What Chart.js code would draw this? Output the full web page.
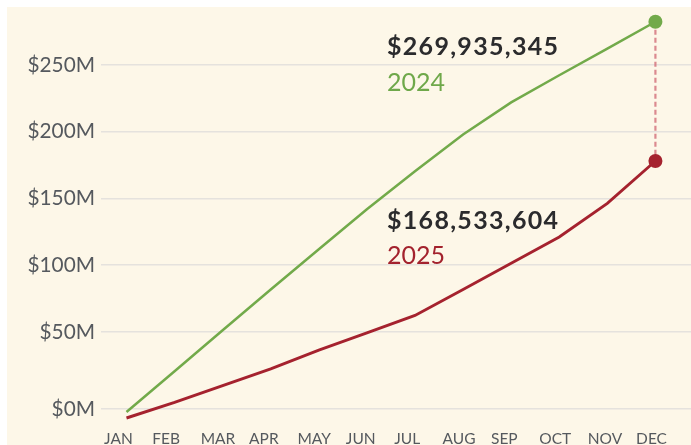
<!DOCTYPE html>
<html>
<head>
<meta charset="utf-8">
<script src="https://cdn.jsdelivr.net/npm/chart.js@4/dist/chart.umd.min.js"></script>
<style>
  html, body { margin: 0; padding: 0; background: #ffffff; width: 691px; height: 445px; overflow: hidden; }
  #wrap { position: absolute; left: 7px; top: 7px; width: 684px; height: 438px; background: #fdf7e8; }
  .ann { position: absolute; font-family: Lato, "Open Sans", sans-serif; font-size: 25px; line-height: 25px; white-space: nowrap; }
  .amt { font-weight: 700; color: #2b2b2d; letter-spacing: 1.3px; }
  .yr { font-weight: 400; }
</style>
</head>
<body>
<div id="wrap"><canvas id="c"></canvas></div>
<div class="ann amt" style="left:387px; top:33px;" id="amt24"></div>
<div class="ann yr" style="left:387px; top:69px; color:#6fa84a;" id="yr24"></div>
<div class="ann amt" style="left:387px; top:207px;" id="amt25"></div>
<div class="ann yr" style="left:387px; top:242px; color:#a3222d;" id="yr25"></div>
<script>
// Categories
const months = ['JAN','FEB','MAR','APR','MAY','JUN','JUL','AUG','SEP','OCT','NOV','DEC'];
// Cumulative totals in $M
const series2024 = [-9.9, 20.6, 51.3, 81.9, 112.0, 142.0, 170.4, 198.0, 222.0, 242.3, 262.3, 282.4];
const series2025 = [-14.4, -2.7, 9.9, 22.4, 36.5, 49.4, 62.4, 81.8, 101.5, 121.2, 146.4, 178.1];
// Series names and end labels
const seriesNames = ['2024', '2025'];
const endLabels = ['$269,935,345', '$168,533,604'];
// Y tick positions ($M) and labels
const yTickValues = [-7.7, 50, 100, 150, 200, 250];
const yTickLabels = ['$0M', '$50M', '$100M', '$150M', '$200M', '$250M'];

document.getElementById('amt24').textContent = endLabels[0];
document.getElementById('yr24').textContent = seriesNames[0];
document.getElementById('amt25').textContent = endLabels[1];
document.getElementById('yr25').textContent = seriesNames[1];

const GREEN = '#72aa4a';
const RED = '#a5222e';
const last = months.length - 1;
const pts = arr => arr.map((v, i) => ({ x: i, y: v }));
const endRadius = ctx => (ctx.dataIndex === last ? 7 : 0);

new Chart(document.getElementById('c'), {
  type: 'line',
  data: {
    datasets: [
      {
        label: seriesNames[0], data: pts(series2024), borderColor: GREEN, backgroundColor: GREEN,
        borderWidth: 2.5, tension: 0, pointRadius: endRadius, pointBackgroundColor: GREEN,
        pointBorderWidth: 0, pointHoverRadius: endRadius
      },
      {
        label: seriesNames[1], data: pts(series2025), borderColor: RED, backgroundColor: RED,
        borderWidth: 2.9, tension: 0, pointRadius: endRadius, pointBackgroundColor: RED,
        pointBorderWidth: 0, pointHoverRadius: endRadius
      },
      {
        label: 'gap', data: [{ x: last, y: series2024[last] }, { x: last, y: series2025[last] }],
        borderColor: 'rgba(210,110,120,0.8)', borderWidth: 2.2, borderDash: [5, 3],
        pointRadius: 0, order: 5
      }
    ]
  },
  options: {
    responsive: true,
    maintainAspectRatio: false,
    animation: false,
    layout: { autoPadding: false, padding: { top: 7, right: 0, bottom: 0, left: 0 } },
    plugins: { legend: { display: false }, tooltip: { enabled: false } },
    scales: {
      x: {
        type: 'linear', min: -0.53, max: 11.74,
        grid: { display: false }, border: { display: false },
        afterBuildTicks: s => { s.ticks = months.map((m, i) => ({ value: i * 1.006 - 0.468 })); },
        afterFit: s => { s.height = 25; s.paddingLeft = 0; s.paddingRight = 0; },
        ticks: {
          autoSkip: false, maxRotation: 0, align: 'start', padding: 2,
          color: '#55595e', font: { family: 'Lato', size: 15.5 },
          callback: (v, i) => months[i]
        }
      },
      y: {
        type: 'linear', min: -15.9, max: 288.2,
        grid: { color: '#e5e2dd', lineWidth: 1.6, drawTicks: false },
        border: { display: false },
        afterBuildTicks: s => { s.ticks = yTickValues.map(v => ({ value: v })); },
        afterFit: s => { s.width = 94; s.paddingTop = 0; s.paddingBottom = 0; },
        ticks: {
          padding: 6, color: '#55595e', font: { family: 'Lato', size: 20.8 },
          callback: (v, i) => yTickLabels[i]
        }
      }
    }
  }
});
</script>
</body>
</html>
